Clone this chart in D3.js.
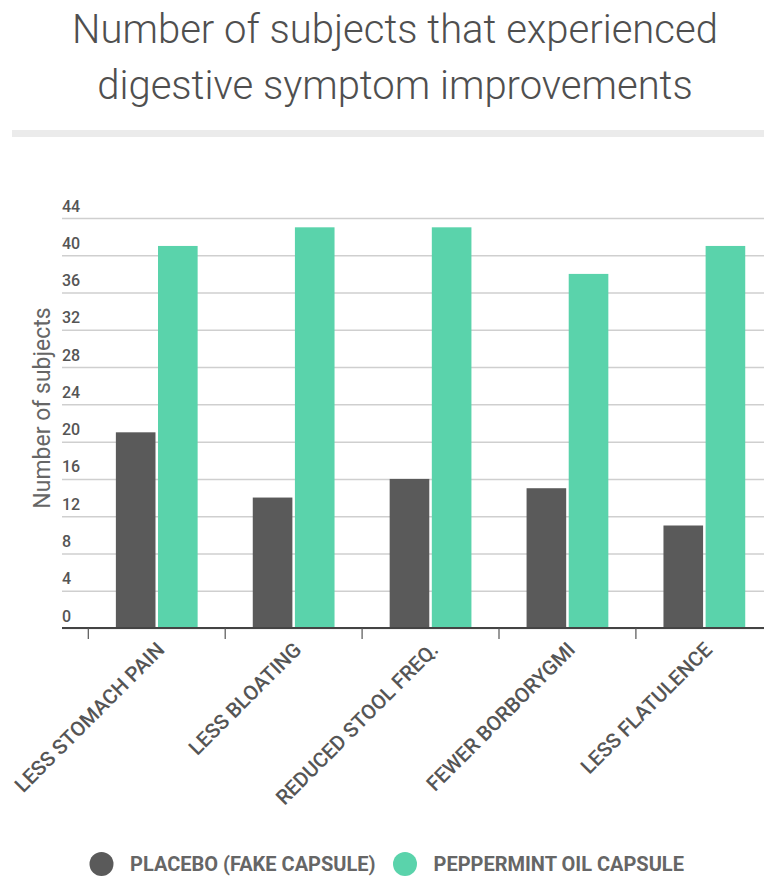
<!DOCTYPE html>
<html>
<head>
<meta charset="utf-8">
<script src="https://cdn.jsdelivr.net/npm/d3@7"></script>
<style>
  html, body { margin: 0; padding: 0; background: #fff; }
  svg { display: block; font-family: Roboto, "Noto Sans", sans-serif; }
</style>
</head>
<body>
<svg id="chart" width="764" height="879"></svg>
<script>
const titleLines = ["Number of subjects that experienced", "digestive symptom improvements"];
const categories = ["LESS STOMACH PAIN", "LESS BLOATING", "REDUCED STOOL FREQ.", "FEWER BORBORYGMI", "LESS FLATULENCE"];
const seriesNames = ["PLACEBO (FAKE CAPSULE)", "PEPPERMINT OIL CAPSULE"];
const placebo = [21, 14, 16, 15, 11];
const peppermint = [41, 43, 43, 38, 41];
const yTicks = [0, 4, 8, 12, 16, 20, 24, 28, 32, 36, 40, 44];
const yTitle = "Number of subjects";
const colors = ["#5a5a5a", "#5ad3ab"];

const W = 764, H = 879;
const svg = d3.select("#chart");
svg.append("rect").attr("width", W).attr("height", H).attr("fill", "#fff");

// Title
svg.selectAll("text.title").data(titleLines).join("text")
  .attr("class", "title")
  .attr("x", 395).attr("y", (d, i) => 43 + i * 56)
  .attr("text-anchor", "middle")
  .attr("font-size", 40).attr("font-weight", 300)
  .attr("fill", "#4f4f4f")
  .text(d => d);

// separator
svg.append("rect").attr("x", 12).attr("y", 130).attr("width", W - 12).attr("height", 7).attr("fill", "#ebebeb");

const plotLeft = 62, plotRight = W;
const y = d3.scaleLinear().domain([0, 44]).range([628, 218]);
const x = d3.scaleBand().domain(categories).range([88.3, 772.8]).paddingInner(0).paddingOuter(0);
const x1 = d3.scaleBand().domain([0, 1]).range([0, x.bandwidth()]).paddingInner(0.06).paddingOuter(0.654);

// Y axis with gridlines
const yAxis = svg.append("g").attr("transform", `translate(${plotLeft},0)`)
  .call(d3.axisLeft(y).tickValues(yTicks).tickSize(-(plotRight - plotLeft)).tickFormat(d3.format("d")));
yAxis.select(".domain").remove();
yAxis.selectAll(".tick line").attr("stroke", "#cfcfcf").attr("stroke-width", 1.5);
yAxis.selectAll(".tick text")
  .attr("x", 0).attr("dy", -7).attr("text-anchor", "start")
  .attr("font-size", 16).attr("font-weight", 500).attr("fill", "#555").attr("font-family", "Roboto, sans-serif");

// y title
svg.append("text")
  .attr("transform", `translate(50,408) rotate(-90)`)
  .attr("text-anchor", "middle")
  .attr("font-size", 23).attr("fill", "#666")
  .text(yTitle);

// Bars
const series = [placebo, peppermint];
const groups = svg.append("g").selectAll("g").data(categories).join("g")
  .attr("transform", d => `translate(${x(d)},0)`);
groups.selectAll("rect").data((d, i) => series.map((s, k) => ({k, v: s[i]}))).join("rect")
  .attr("x", d => x1(d.k))
  .attr("width", x1.bandwidth())
  .attr("y", d => y(d.v))
  .attr("height", d => y(0) - y(d.v))
  .attr("fill", d => colors[d.k]);

// X axis line and boundary ticks
svg.append("line").attr("x1", plotLeft).attr("x2", plotRight)
  .attr("y1", y(0)).attr("y2", y(0)).attr("stroke", "#444").attr("stroke-width", 2);
svg.append("g").selectAll("line").data(categories).join("line")
  .attr("x1", d => x(d)).attr("x2", d => x(d))
  .attr("y1", y(0)).attr("y2", y(0) + 11)
  .attr("stroke", "#555").attr("stroke-width", 1.2);

// X labels
svg.append("g").selectAll("text").data(categories).join("text")
  .attr("transform", d => `translate(${x(d) + x.bandwidth() / 2 + 9},651) rotate(-45)`)
  .attr("text-anchor", "end")
  .attr("font-size", 20.5).attr("font-weight", 500).attr("fill", "#555")
  .text(d => d);

// Legend
const legendX = [101.5, 405];
const lg = svg.append("g").selectAll("g").data(seriesNames).join("g")
  .attr("transform", (d, i) => `translate(${legendX[i]},864)`);
lg.append("circle").attr("r", 12).attr("fill", (d, i) => colors[i]);
lg.append("text").attr("x", 28.5).attr("y", 7)
  .attr("font-size", 20).attr("font-weight", 700).attr("fill", "#666")
  .text(d => d);
</script>
</body>
</html>
